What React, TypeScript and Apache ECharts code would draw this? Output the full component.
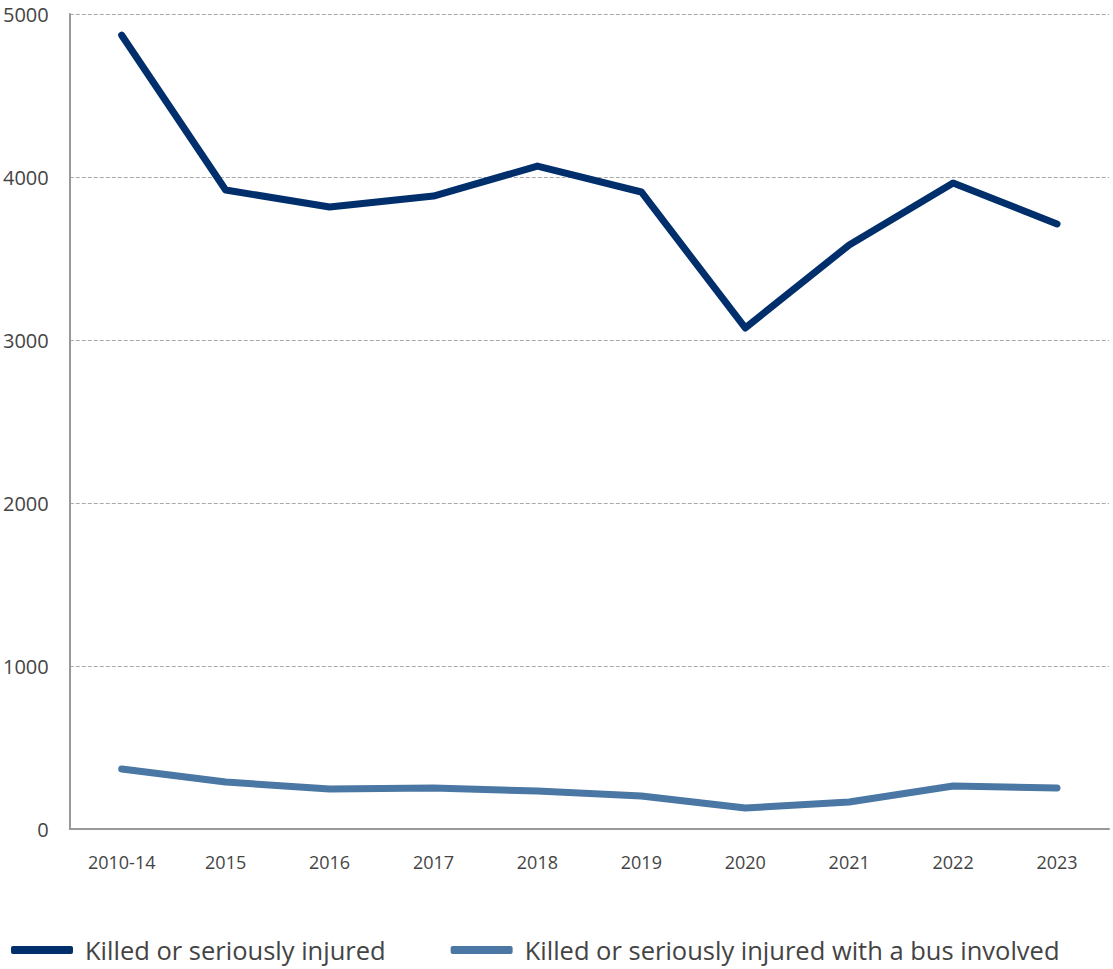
import React, { useEffect, useRef } from "react";
import * as echarts from "echarts";

const categories = ["2010-14", "2015", "2016", "2017", "2018", "2019", "2020", "2021", "2022", "2023"];
const ksiValues = [4870, 3920, 3816, 3883, 4067, 3908, 3074, 3583, 3963, 3712];
const busValues = [368, 288, 245, 252, 233, 202, 129, 166, 264, 252];
const seriesNames = ["Killed or seriously injured", "Killed or seriously injured with a bus involved"];

const FONT = "'Open Sans', 'Noto Sans', sans-serif";

export default function App() {
  const ref = useRef<HTMLDivElement>(null);
  useEffect(() => {
    if (!ref.current) return;
    const chart = echarts.init(ref.current, undefined, { renderer: "svg" });
    chart.setOption({
      animation: false,
      backgroundColor: "#ffffff",
      grid: { left: 69, right: 4, top: 14, bottom: 140, containLabel: false },
      legend: {
        left: 11,
        top: 936,
        padding: 0,
        itemWidth: 62,
        itemHeight: 8,
        itemGap: 65,
        icon: "roundRect",
        textStyle: {
          fontFamily: FONT,
          fontSize: 25.5,
          lineHeight: 28,
          color: "#444",
          padding: [0, 0, 0, 7],
        },
        data: seriesNames,
      },
      xAxis: {
        type: "category",
        data: categories,
        boundaryGap: true,
        axisLine: { lineStyle: { color: "#999", width: 2 } },
        axisTick: { show: false },
        axisLabel: { fontFamily: FONT, fontSize: 18, color: "#444", margin: 24 },
      },
      yAxis: {
        type: "value",
        min: 0,
        max: 5000,
        interval: 1000,
        axisLine: { show: true, lineStyle: { color: "#999", width: 2 } },
        axisTick: { show: false },
        axisLabel: {
          fontFamily: FONT,
          fontSize: 20,
          color: "#444",
          margin: 21,
          formatter: (v: number) => String(v),
        },
        splitLine: { lineStyle: { color: "#aaa", type: "dashed", width: 1 } },
      },
      series: [
        {
          name: seriesNames[0],
          type: "line",
          data: ksiValues,
          symbol: "none",
          color: "#002f6c",
          lineStyle: { width: 7, color: "#002f6c", cap: "round", join: "round" },
        },
        {
          name: seriesNames[1],
          type: "line",
          data: busValues,
          symbol: "none",
          color: "#4a77a3",
          lineStyle: { width: 7, color: "#4a77a3", cap: "round", join: "round" },
        },
      ],
    });
    return () => chart.dispose();
  }, []);
  return (
    <div
      ref={ref}
      style={{ position: "fixed", left: 0, top: 0, width: 1113, height: 969 }}
    />
  );
}
